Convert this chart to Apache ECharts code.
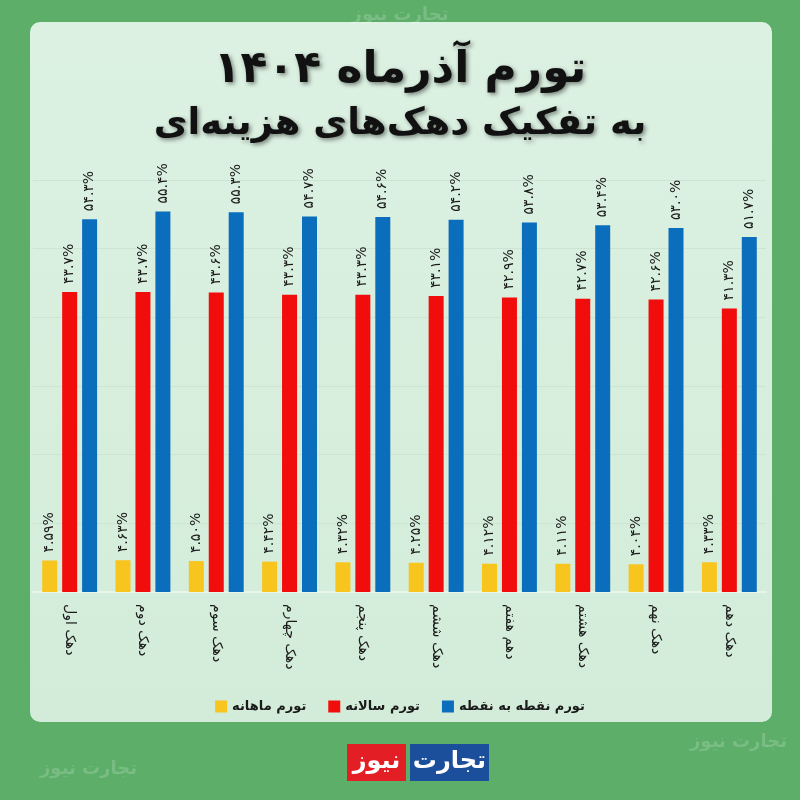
<!DOCTYPE html>
<html dir="ltr">
<head>
<meta charset="utf-8">
<script src="https://cdn.jsdelivr.net/npm/echarts@6/dist/echarts.min.js"></script>
<style>
html,body{margin:0;padding:0;background:#5cae69;}
#c{width:800px;height:800px;}
</style>
</head>
<body>
<div id="c"></div>
<script>
const categories = ['دهک اول','دهک دوم','دهک سوم','دهک چهارم','دهک پنجم','دهک ششم','دهم هفتم','دهک هشتم','دهک نهم','دهک دهم'];
const monthly = [4.59, 4.63, 4.50, 4.42, 4.32, 4.25, 4.12, 4.11, 4.04, 4.33];
const annual = [43.7, 43.7, 43.6, 43.3, 43.3, 43.1, 42.9, 42.7, 42.6, 41.3];
const pointToPoint = [54.3, 55.4, 55.3, 54.7, 54.6, 54.2, 53.8, 53.4, 53.0, 51.7];
const seriesNames = ['تورم ماهانه','تورم سالانه','تورم نقطه به نقطه'];
const titleText = 'تورم آذرماه ۱۴۰۴';
const subtitleText = 'به تفکیک دهک‌های هزینه‌ای';

const FONT = "'DejaVu Sans', sans-serif";
const faDigits = '۰۱۲۳۴۵۶۷۸۹';
function toFa(s){ return String(s).replace(/[0-9]/g, d => faDigits[+d]); }
function fmt(dec){ return p => toFa(p.value.toFixed(dec)) + '%'; }

function barSeries(name, data, color, dec){
  return {
    name, type:'bar', data, barWidth:15, barGap:'33%',
    itemStyle:{color},
    label:{show:true, position:'top', rotate:90, align:'left', verticalAlign:'middle',
      distance:8, formatter:fmt(dec), fontFamily:FONT, fontSize:14, color:'#1b1b1b'}
  };
}

const chart = echarts.init(document.getElementById('c'), null, {renderer:'canvas'});
chart.setOption({
  backgroundColor:'#5cae69',
  animation:false,
  graphic:[
    {type:'rect', z:-10, shape:{x:30,y:22,width:742,height:700,r:10},
     style:{fill:new echarts.graphic.LinearGradient(0,0,0,1,[{offset:0,color:'#dcf1e2'},{offset:1,color:'#d3ecd9'}])}},
    {type:'text', z:-5, left:'center', top:6, style:{text:'تجارت نیوز', font:"bold 18px 'DejaVu Sans'", fill:'rgba(255,255,255,0.18)'}},
    {type:'text', z:-5, left:690, top:733, style:{text:'تجارت نیوز', font:"bold 18px 'DejaVu Sans'", fill:'rgba(255,255,255,0.18)'}},
    {type:'text', z:-5, left:40, top:760, style:{text:'تجارت نیوز', font:"bold 18px 'DejaVu Sans'", fill:'rgba(255,255,255,0.18)'}},
    {type:'rect', shape:{x:347,y:744,width:59,height:37}, style:{fill:'#e31e24'}},
    {type:'rect', shape:{x:410,y:744,width:79,height:37}, style:{fill:'#1b4e9b'}},
    {type:'text', style:{x:376.5,y:762,text:'نیوز', font:"bold 24px 'DejaVu Sans'", fill:'#fff', align:'center', verticalAlign:'middle'}},
    {type:'text', style:{x:449.5,y:762,text:'تجارت', font:"bold 24px 'DejaVu Sans'", fill:'#fff', align:'center', verticalAlign:'middle'}}
  ],
  title:[
    {text:titleText, left:'center', top:44,
     textStyle:{fontFamily:FONT, fontWeight:'bold', fontSize:44, color:'#111',
       textShadowColor:'rgba(0,0,0,0.45)', textShadowBlur:4, textShadowOffsetX:2, textShadowOffsetY:2}},
    {text:subtitleText, left:'center', top:101,
     textStyle:{fontFamily:FONT, fontWeight:'bold', fontSize:37, color:'#111',
       textShadowColor:'rgba(0,0,0,0.45)', textShadowBlur:4, textShadowOffsetX:2, textShadowOffsetY:2}}
  ],
  legend:{
    data:seriesNames, left:'center', top:695, itemWidth:12, itemHeight:12, itemGap:22,
    icon:'rect',
    textStyle:{fontFamily:FONT, fontWeight:'bold', fontSize:13, color:'#1b1b1b'}
  },
  grid:{left:33, right:34, top:180, bottom:208},
  xAxis:{
    type:'category', data:categories,
    axisLine:{show:true, lineStyle:{color:'#e8f5eb', width:2}},
    axisTick:{show:false},
    axisLabel:{rotate:-90, margin:12, fontFamily:FONT, fontSize:14, color:'#1b1b1b'}
  },
  yAxis:{
    type:'value', min:0, max:60, interval:10,
    axisLabel:{show:false}, axisLine:{show:false}, axisTick:{show:false},
    splitLine:{show:true, lineStyle:{color:'#cde4d2', width:1}}
  },
  series:[
    barSeries(seriesNames[0], monthly, '#f7c51e', 2),
    barSeries(seriesNames[1], annual, '#f20d0d', 1),
    barSeries(seriesNames[2], pointToPoint, '#0b6ebd', 1)
  ]
});
</script>
</body>
</html>
